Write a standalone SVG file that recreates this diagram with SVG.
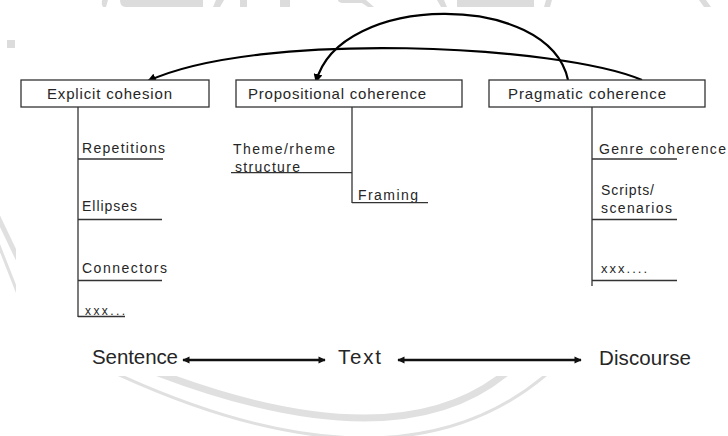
<svg xmlns="http://www.w3.org/2000/svg" width="728" height="436" viewBox="0 0 728 436">
<defs>
<style>
.bg{fill:#ffffff}
.wm{fill:#dcdcdc}
.wml{fill:none;stroke:#e0e0e0}
.box{fill:#ffffff;stroke:#333333;stroke-width:1.3}
.tree{fill:none;stroke:#333333;stroke-width:1.3}
.curve{fill:none;stroke:#000000;stroke-width:2.2}
.scale{fill:none;stroke:#111111;stroke-width:2.4}
text{font-family:"Liberation Sans",Arial,sans-serif;fill:#262626}
.lbl{font-size:15px}
.sub{font-size:14px}
.big{font-size:20.5px}
</style>
<marker id="ah" viewBox="0 0 10 10" refX="9" refY="5" markerWidth="4" markerHeight="4" orient="auto" markerUnits="strokeWidth">
<path d="M0,0 L10,5 L0,10 z" fill="#000000"/>
</marker>
<marker id="ahs" viewBox="0 0 10 10" refX="9" refY="5" markerWidth="3.6" markerHeight="3" orient="auto-start-reverse" markerUnits="strokeWidth">
<path d="M0,0 L10,5 L0,10 z" fill="#111111"/>
</marker>
<clipPath id="cb"><rect x="0" y="376" width="728" height="60"/></clipPath>
<clipPath id="cl"><rect x="0" y="200" width="16" height="120"/></clipPath>
</defs>
<rect class="bg" x="0" y="0" width="728" height="436"/>
<g id="watermark">
<path class="wm" d="M102,0 H108 L106,7 H103 Q101,4 102,0 z"/>
<path class="wm" d="M120,0 H203 V7 H125 Q120,6 120,0 z"/>
<path class="wm" d="M216,0 H224 L220,7 H213 z"/>
<rect class="wm" x="240" y="0" width="7" height="7"/>
<rect class="wm" x="280" y="0" width="10" height="7"/>
<path class="wm" d="M338,0 H366 L374,7 H368 L362,3 H342 Q338,2 338,0 z"/>
<path class="wm" d="M437,0 H444 L447,7 H441 z"/>
<rect class="wm" x="457" y="0" width="77" height="7"/>
<path class="wm" d="M546,0 H552 L550,7 H544 z"/>
<path class="wm" d="M699,0 H706 L711,7 H704 z"/>
<rect class="wm" x="7" y="40" width="8" height="8"/>
<g clip-path="url(#cl)">
<line class="wml" x1="-2" y1="217" x2="18" y2="259" stroke-width="5"/>
<line class="wml" x1="-2" y1="243" x2="18" y2="294" stroke-width="3"/>
</g>
<g clip-path="url(#cb)">
<path class="wml" d="M140,366 Q401,470 514,366" stroke-width="7"/>
<path class="wml" d="M100,366 Q401,510 556,366" stroke-width="3"/>
</g>
</g>
<g id="connectors">
<path class="curve" d="M642,80 C560,45 260,30 148,81" marker-end="url(#ah)"/>
<path class="curve" d="M568,80 C549,-9 339,-8 316,82" marker-end="url(#ah)"/>
<line class="tree" x1="78" y1="107" x2="78" y2="317"/>
<line class="tree" x1="352" y1="107" x2="352" y2="203"/>
<line class="tree" x1="592" y1="107" x2="592" y2="286"/>
<line class="scale" x1="183" y1="360" x2="325" y2="360" marker-start="url(#ahs)" marker-end="url(#ahs)"/>
<line class="scale" x1="398" y1="360" x2="581" y2="360" marker-start="url(#ahs)" marker-end="url(#ahs)"/>
</g>
<g id="node-explicit">
<rect class="box" x="21" y="80" width="188" height="27"/>
<text class="lbl" x="47" y="99" textLength="125" lengthAdjust="spacing">Explicit cohesion</text>
</g>
<g id="node-propositional">
<rect class="box" x="236" y="80" width="226" height="27"/>
<text class="lbl" x="248" y="99" textLength="178" lengthAdjust="spacing">Propositional coherence</text>
</g>
<g id="node-pragmatic">
<rect class="box" x="489" y="80" width="216" height="27"/>
<text class="lbl" x="508" y="99" textLength="158" lengthAdjust="spacing">Pragmatic coherence</text>
</g>
<g id="item-repetitions">
<text class="sub" x="82" y="153" textLength="83" lengthAdjust="spacing">Repetitions</text>
<line class="tree" x1="78" y1="159" x2="163" y2="159"/>
</g>
<g id="item-ellipses">
<text class="sub" x="82" y="211" textLength="55" lengthAdjust="spacing">Ellipses</text>
<line class="tree" x1="78" y1="219.5" x2="162" y2="219.5"/>
</g>
<g id="item-connectors">
<text class="sub" x="82" y="273" textLength="85" lengthAdjust="spacing">Connectors</text>
<line class="tree" x1="78" y1="280.5" x2="162" y2="280.5"/>
</g>
<g id="item-xxx-explicit">
<text x="85" y="315" font-size="12" textLength="40" lengthAdjust="spacing">xxx...</text>
<line class="tree" x1="78" y1="316.5" x2="125" y2="316.5"/>
</g>
<g id="item-theme">
<text class="sub" x="233" y="154" textLength="102" lengthAdjust="spacing">Theme/rheme</text>
<text class="sub" x="235" y="172" textLength="65" lengthAdjust="spacing">structure</text>
<line class="tree" x1="231" y1="172.7" x2="352" y2="172.7"/>
</g>
<g id="item-framing">
<text class="sub" x="358" y="200" textLength="60" lengthAdjust="spacing">Framing</text>
<line class="tree" x1="352" y1="202.7" x2="428" y2="202.7"/>
</g>
<g id="item-genre">
<text class="sub" x="599" y="154" textLength="127" lengthAdjust="spacing">Genre coherence</text>
<line class="tree" x1="592" y1="159" x2="677" y2="159"/>
</g>
<g id="item-scripts">
<text class="sub" x="601" y="195" textLength="53" lengthAdjust="spacing">Scripts/</text>
<text class="sub" x="601" y="213" textLength="71" lengthAdjust="spacing">scenarios</text>
<line class="tree" x1="592" y1="219.5" x2="677" y2="219.5"/>
</g>
<g id="item-xxx-pragmatic">
<text x="601" y="273" font-size="13" textLength="46" lengthAdjust="spacing">xxx....</text>
<line class="tree" x1="592" y1="280.5" x2="677" y2="280.5"/>
</g>
<g id="node-sentence">
<text class="big" x="92" y="364" textLength="86" lengthAdjust="spacing">Sentence</text>
</g>
<g id="node-text">
<text class="big" x="338" y="364" textLength="43" lengthAdjust="spacing">Text</text>
</g>
<g id="node-discourse">
<text class="big" x="599" y="365" textLength="92" lengthAdjust="spacing">Discourse</text>
</g>
</svg>
